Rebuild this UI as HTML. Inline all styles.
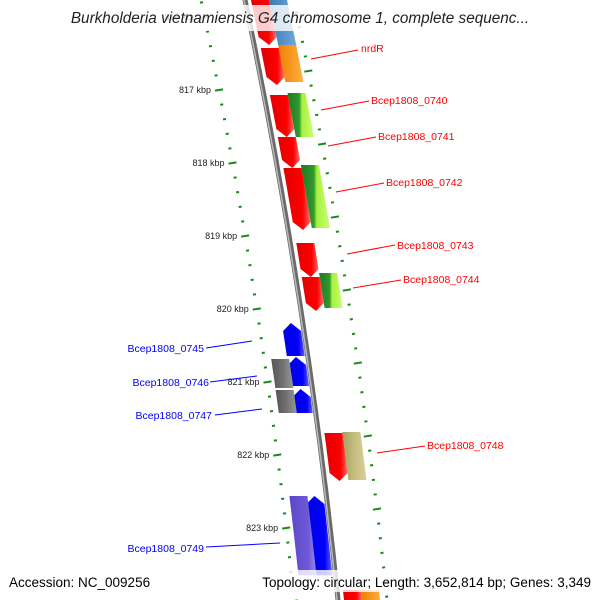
<!DOCTYPE html>
<html><head><meta charset="utf-8"><style>
body{margin:0;background:#fff}
svg{display:block;font-family:"Liberation Sans","DejaVu Sans",sans-serif}
</style></head><body>
<svg id="map" width="600" height="600" viewBox="0 0 600 600" xmlns="http://www.w3.org/2000/svg">
<defs>
<linearGradient id="g-red" x1="0" x2="1" y1="0" y2="0"><stop offset="0" stop-color="#e00000"/><stop offset="0.7" stop-color="#ff0000"/><stop offset="1" stop-color="#ff7070"/></linearGradient>
<linearGradient id="g-blue" x1="0" x2="1"><stop offset="0" stop-color="#0000e0"/><stop offset="0.7" stop-color="#0000ff"/><stop offset="1" stop-color="#6060ff"/></linearGradient>
<linearGradient id="g-green" x1="0" x2="1"><stop offset="0" stop-color="#1f7a1f"/><stop offset="0.45" stop-color="#2f9a2f"/><stop offset="0.55" stop-color="#a8f040"/><stop offset="1" stop-color="#c8ff70"/></linearGradient>
<linearGradient id="g-orange" x1="0" x2="1"><stop offset="0" stop-color="#f08000"/><stop offset="1" stop-color="#ffb040"/></linearGradient>
<linearGradient id="g-steel" x1="0" x2="1"><stop offset="0" stop-color="#3a78b0"/><stop offset="1" stop-color="#70a8d8"/></linearGradient>
<linearGradient id="g-khaki" x1="0" x2="1"><stop offset="0" stop-color="#a8a060"/><stop offset="0.4" stop-color="#c0b878"/><stop offset="1" stop-color="#d8d098"/></linearGradient>
<linearGradient id="g-gray" x1="0" x2="1"><stop offset="0" stop-color="#555"/><stop offset="0.5" stop-color="#707070"/><stop offset="1" stop-color="#999"/></linearGradient>
<linearGradient id="g-purple" x1="0" x2="1"><stop offset="0" stop-color="#5a48c8"/><stop offset="0.7" stop-color="#6e5ad8"/><stop offset="1" stop-color="#9a8ae8"/></linearGradient>
</defs>
<g id="ticks"></g>
<g id="backbone"></g>
<g id="genes"></g>
<g id="labels" font-size="10.5">
<g fill="#f00" stroke="none"><line x1="311" y1="59" x2="358" y2="50" stroke="#f00"/><text x="361" y="52">nrdR</text></g>
<g fill="#f00"><line x1="321" y1="110" x2="369" y2="101" stroke="#f00"/><text x="371" y="104">Bcep1808_0740</text></g>
<g fill="#f00"><line x1="328" y1="146" x2="376" y2="137" stroke="#f00"/><text x="378" y="140">Bcep1808_0741</text></g>
<g fill="#f00"><line x1="336" y1="192" x2="384" y2="183" stroke="#f00"/><text x="386" y="186">Bcep1808_0742</text></g>
<g fill="#f00"><line x1="347" y1="254" x2="395" y2="245" stroke="#f00"/><text x="397" y="249">Bcep1808_0743</text></g>
<g fill="#f00"><line x1="353" y1="288" x2="401" y2="280" stroke="#f00"/><text x="403" y="283">Bcep1808_0744</text></g>
<g fill="#f00"><line x1="377" y1="453" x2="425" y2="446" stroke="#f00"/><text x="427" y="449">Bcep1808_0748</text></g>
<g fill="#00f" text-anchor="end"><line x1="206" y1="348" x2="252" y2="341" stroke="#00f"/><text x="204" y="352">Bcep1808_0745</text></g>
<g fill="#00f" text-anchor="end"><line x1="210" y1="382" x2="257" y2="376" stroke="#00f"/><text x="209" y="386">Bcep1808_0746</text></g>
<g fill="#00f" text-anchor="end"><line x1="215" y1="415" x2="262" y2="409" stroke="#00f"/><text x="212" y="419">Bcep1808_0747</text></g>
<g fill="#00f" text-anchor="end"><line x1="206" y1="547" x2="280" y2="543" stroke="#00f"/><text x="204" y="552">Bcep1808_0749</text></g>
</g>
<rect x="62" y="5" width="476" height="26" fill="#fff" fill-opacity="0.8"/>
<text x="300" y="23" text-anchor="middle" font-size="15.3" font-style="italic" fill="#222">Burkholderia vietnamiensis G4 chromosome 1, complete sequenc...</text>
<rect x="255" y="570" width="340" height="22" fill="#fff" fill-opacity="0.8"/>
<text x="9" y="587" font-size="13.5" fill="#000">Accession: NC_009256</text>
<text x="591" y="587" font-size="13.5" text-anchor="end" fill="#000">Topology: circular; Length: 3,652,814 bp; Genes: 3,349</text>
</svg>
<script>
// genes: start/end in kbp, track, strand, fill
const geneStarts = [815.70,816.425,817.068,817.644,818.068,819.096,819.562,821.699,823.849, 815.70,816.384,817.041,818.027,819.507,821.685,823.849, 820.192,820.658,821.096, 822.562,820.685,821.110,822.562];
const geneEnds   = [816.384,816.932,817.644,818.068,818.918,819.562,820.027,822.356,824.10, 816.384,816.890,817.644,818.890,819.986,822.342,824.10, 820.644,821.055,821.425, 823.650,821.082,821.425,823.650];
const geneTracks = [1,1,1,1,1,1,1,1,1, 2,2,2,2,2,2,2, -1,-1,-1,-1, -2,-2,-2];
const geneStrand = [-1,-1,-1,-1,-1,-1,-1,-1,-1, 0,0,0,0,0,0,0, 1,1,1,1, 0,0,0];
const geneFills  = ['red','red','red','red','red','red','red','red','red','steel','orange','green','green','green','khaki','orange','blue','blue','blue','blue','gray','gray','purple'];
const majorTicks = [816,817,818,819,820,821,822,823,824];
const tickLabels = ['816 kbp','817 kbp','818 kbp','819 kbp','820 kbp','821 kbp','822 kbp','823 kbp','824 kbp'];

const NS='http://www.w3.org/2000/svg';
function yScale(k){return 90+(k-817)*73;}
function bx(y){return 245+0.2075*y-8.75e-5*y*y;}
const trackOff={1:[6,24],2:[24,42],'-1':[-21,-3],'-2':[-37,-19]};
function mk(tag,attrs,parent){const e=document.createElementNS(NS,tag);for(const k in attrs)e.setAttribute(k,attrs[k]);parent.appendChild(e);return e;}

const bb=document.getElementById('backbone');
let d='';for(let y=-10;y<=610;y+=10){d+=(y<0?'M':'L')+bx(y).toFixed(1)+' '+y+' ';}
const b1=mk('path',{d:d,fill:'none',stroke:'#6a6a6a','stroke-width':5},bb);


const b2=mk('path',{d:d,fill:'none',stroke:'#b8b8b8','stroke-width':1.5,transform:'translate(-1,0)'},bb);



const gg=document.getElementById('genes');
for(let i=0;i<geneStarts.length;i++){
  const y0=yScale(geneStarts[i]),y1=yScale(geneEnds[i]);
  const [o0,o1]=trackOff[geneTracks[i]];
  const s=geneStrand[i];const tip=8;
  const pts=[];
  const ya=s===1?y0+tip:y0, yb=s===-1?y1-tip:y1;
  const n=6;
  for(let j=0;j<=n;j++){const y=ya+(yb-ya)*j/n;pts.push([bx(y)+o0,y]);}
  if(s===-1){const yc=y1;pts.push([bx(yc)+(o0+o1)/2,yc]);}
  for(let j=n;j>=0;j--){const y=ya+(yb-ya)*j/n;pts.push([bx(y)+o1,y]);}
  if(s===1){pts.push([bx(y0)+(o0+o1)/2,y0]);}
  const p=mk('polygon',{points:pts.map(q=>q[0].toFixed(1)+','+q[1].toFixed(1)).join(' '),fill:'url(#g-'+geneFills[i]+')'},gg);
  
  
}

const tg=document.getElementById('ticks');
function tickRing(off,phase){
  for(let i=0;i<50;i++){
    const k=815+phase+i*0.2;
    const y=yScale(k);if(y<-5||y>605)continue;
    const isMajor=(i%5===0);
    const len=isMajor?8:3;const x=bx(y)+off;
    const t=mk('line',{x1:(x-len/2).toFixed(1),y1:(y+len*0.08).toFixed(1),x2:(x+len/2).toFixed(1),y2:(y-len*0.08).toFixed(1),stroke:'#1a8a1a','stroke-width':2},tg);
    
    
  }
}
tickRing(-44,0);
tickRing(49,0.74);
for(let i=0;i<majorTicks.length;i++){
  const y=yScale(majorTicks[i]);if(y<0||y>600)continue;
  const t=mk('text',{x:(bx(y)-52).toFixed(1),y:(y+3).toFixed(1),'text-anchor':'end','font-size':9,fill:'#222'},tg);
  t.textContent=tickLabels[i];
  
  
}
</script>
</body></html>
